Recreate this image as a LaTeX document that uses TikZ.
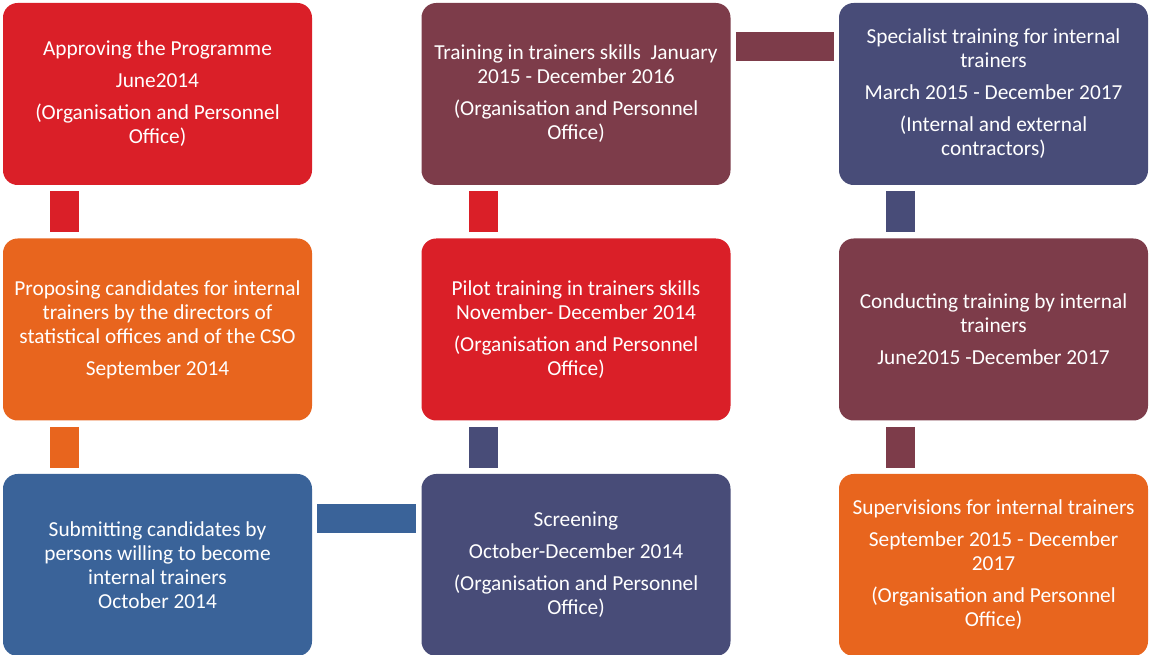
\documentclass[tikz,border=0pt]{standalone}
\usepackage{fontspec}
\setmainfont{Carlito}

\definecolor{stepred}{RGB}{218,31,40}
\definecolor{stepwine}{RGB}{125,60,74}
\definecolor{stepnavy}{RGB}{72,76,120}
\definecolor{steporange}{RGB}{232,101,30}
\definecolor{stepblue}{RGB}{58,99,153}

\begin{document}
\begin{tikzpicture}[x=0.75pt,y=-0.75pt,
	box/.style={rectangle, rounded corners=11pt, minimum width=231.75pt, minimum height=136.5pt, inner sep=0pt, text=white, align=center, font=\fontsize{16}{18}\selectfont},
	vlink/.style={line width=21.75pt, shorten <=4.5pt, shorten >=4.5pt},
	hlink/.style={line width=21.75pt, shorten <=3.75pt, shorten >=3.75pt}]
	\useasboundingbox (0,0) rectangle (1149,655);

	\node[box, fill=stepred] (A1) at (157.5,94) {Approving the Programme\\[6pt]June2014\\[6pt](Organisation and Personnel\\Office)};
	\node[box, fill=steporange] (A2) at (157.5,329.5) {Proposing candidates for internal\\trainers by the directors of\\statistical offices and of the CSO\\[6pt]September 2014};
	\node[box, fill=stepblue] (A3) at (157.5,565) {Submitting candidates by\\persons willing to become\\internal trainers\\October 2014};

	\node[box, fill=stepwine] (B1) at (576,94) {Training in trainers skills\ \ January\\2015 - December 2016\\[6pt](Organisation and Personnel\\Office)};
	\node[box, fill=stepred] (B2) at (576,329.5) {Pilot training in trainers skills\\November- December 2014\\[6pt](Organisation and Personnel\\Office)};
	\node[box, fill=stepnavy] (B3) at (576,565) {Screening\\[6pt]October-December 2014\\[6pt](Organisation and Personnel\\Office)};

	\node[box, fill=stepnavy] (C1) at (993.5,94) {Specialist training for internal\\trainers\\[6pt]March 2015 - December 2017\\[6pt](Internal and external\\contractors)};
	\node[box, fill=stepwine] (C2) at (993.5,329.5) {Conducting training by internal\\trainers\\[6pt]June2015 -December 2017};
	\node[box, fill=steporange] (C3) at (993.5,565) {Supervisions for internal trainers\\[6pt]September 2015 - December\\2017\\[6pt](Organisation and Personnel\\Office)};

	\draw[vlink, stepred] ([xshift=-69.75pt]A1.south) -- ([xshift=-69.75pt]A2.north);
	\draw[vlink, steporange] ([xshift=-69.75pt]A2.south) -- ([xshift=-69.75pt]A3.north);
	\draw[hlink, stepblue] ([yshift=35pt]A3.east) -- ([yshift=35pt]B3.west);
	\draw[vlink, stepnavy] ([xshift=-69.75pt]B3.north) -- ([xshift=-69.75pt]B2.south);
	\draw[vlink, stepred] ([xshift=-69.75pt]B2.north) -- ([xshift=-69.75pt]B1.south);
	\draw[hlink, stepwine] ([yshift=35.6pt]B1.east) -- ([yshift=35.6pt]C1.west);
	\draw[vlink, stepnavy] ([xshift=-69.75pt]C1.south) -- ([xshift=-69.75pt]C2.north);
	\draw[vlink, stepwine] ([xshift=-69.75pt]C2.south) -- ([xshift=-69.75pt]C3.north);
\end{tikzpicture}
\end{document}
